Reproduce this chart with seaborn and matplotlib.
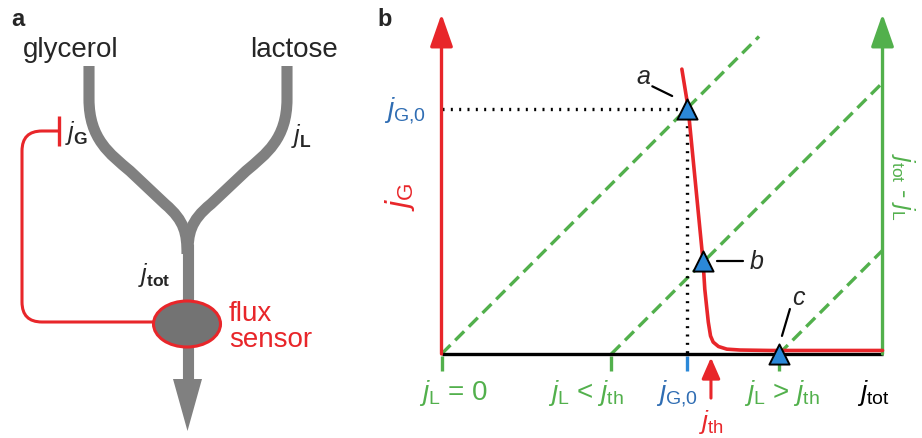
import numpy as np
import pandas as pd
import seaborn as sns
import matplotlib.pyplot as plt
from matplotlib.path import Path
from matplotlib.patches import PathPatch, Ellipse, Polygon

# panel b values, in units where j_tot = 1
curve_x = [0.545, 0.559, 0.593, 0.597, 0.601, 0.605, 0.610, 0.616, 0.628, 0.647, 0.677, 0.745, 1.0]
curve_y = [0.646, 0.560, 0.211, 0.147, 0.109, 0.072, 0.041, 0.027, 0.017, 0.011, 0.009, 0.008, 0.008]
jl_levels = [0.0, 0.385, 0.765]
jl_ends = [0.72, 1.0, 1.0]
point_names = ['a', 'b', 'c']
point_x = [0.556, 0.593, 0.765]
point_y = [0.556, 0.211, 0.0]
jg0 = 0.556
jth = 0.611
jtot = 1.0
axis_top = 0.771

RED = '#e8262a'
GREEN = '#52b04c'
BLUE = '#2b88d8'
DBLUE = '#2f6db3'
GRAY = '#808080'

sns.set_style('white')
plt.rcParams['font.family'] = ['Liberation Sans', 'DejaVu Sans']
plt.rcParams['mathtext.fontset'] = 'custom'
plt.rcParams['mathtext.rm'] = 'Liberation Sans'
plt.rcParams['mathtext.it'] = 'Liberation Sans:italic'
plt.rcParams['mathtext.bf'] = 'Liberation Sans:bold'

fig = plt.figure(figsize=(9.22, 4.39), dpi=100)

# ---------- panel a (drawn in pixel coordinates) ----------
ax0 = fig.add_axes([0, 0, 1, 1])
ax0.set_xlim(0, 922)
ax0.set_ylim(439, 0)
ax0.axis('off')

tube_lw = 8.0
left = Path([(89, 67), (89, 100), (89, 140), (110, 155), (130, 172), (165, 205),
             (185, 222), (187, 235), (187, 255)],
            [Path.MOVETO, Path.LINETO, Path.CURVE4, Path.CURVE4, Path.CURVE4,
             Path.LINETO, Path.CURVE4, Path.CURVE4, Path.CURVE4])
right = Path([(287, 67), (287, 100), (287, 140), (266, 155), (246, 172), (211, 205),
              (190, 222), (188, 235), (188, 255)],
             [Path.MOVETO, Path.LINETO, Path.CURVE4, Path.CURVE4, Path.CURVE4,
              Path.LINETO, Path.CURVE4, Path.CURVE4, Path.CURVE4])
for p in (left, right):
    ax0.add_patch(PathPatch(p, fill=False, edgecolor=GRAY, lw=tube_lw, capstyle='butt'))
ax0.plot([187.5, 187.5], [245, 384], color=GRAY, lw=tube_lw, solid_capstyle='butt')
ax0.add_patch(Polygon([(173, 380), (202, 380), (187.5, 432)], closed=True, color=GRAY, lw=0))

# feedback line
fb = Path([(153, 323), (42, 323), (22, 323), (22, 303), (22, 152), (22, 132), (42, 132), (59, 132)],
          [Path.MOVETO, Path.LINETO, Path.CURVE3, Path.CURVE3, Path.LINETO,
           Path.CURVE3, Path.CURVE3, Path.LINETO])
ax0.add_patch(PathPatch(fb, fill=False, edgecolor=RED, lw=2.2))
ax0.plot([59, 59], [117, 147], color=RED, lw=2.4, solid_capstyle='butt')
ax0.add_patch(Ellipse((187, 325), 67, 46, facecolor='#737373', edgecolor=RED, lw=2.2, zorder=3))

ax0.text(18, 20, 'a', fontsize=17, fontweight='bold', ha='center', va='center')
ax0.text(70.5, 57, 'glycerol', fontsize=20, ha='center', va='baseline')
ax0.text(294, 57, 'lactose', fontsize=20, ha='center', va='baseline')
ax0.text(65, 140, r'$j_\mathbf{G}$', fontsize=18, ha='left', va='baseline')
ax0.text(291, 143, r'$j_\mathbf{L}$', fontsize=18, ha='left', va='baseline')
ax0.text(138, 282, r'$j_\mathbf{tot}$', fontsize=18, ha='left', va='baseline')
ax0.text(229, 321, 'flux', fontsize=20, color=RED, ha='left', va='baseline')
ax0.text(229, 347, 'sensor', fontsize=20, color=RED, ha='left', va='baseline')

# ---------- panel b ----------
ax1 = fig.add_axes([397.4 / 922, 0.21 / 439, 520.4 / 922, 436.6 / 439])
ax1.patch.set_alpha(0)

dash_rows = []
for lvl, xe in zip(jl_levels, jl_ends):
    dash_rows.append({'x': lvl, 'y': 0.0, 'level': lvl})
    dash_rows.append({'x': xe, 'y': xe - lvl, 'level': lvl})
dash_df = pd.DataFrame(dash_rows)
sns.lineplot(data=dash_df, x='x', y='y', units='level', estimator=None, sort=False,
             color=GREEN, lw=2.4, linestyle=(0, (3.8, 2.0)), legend=False, ax=ax1, zorder=2)

# dotted guides to j_G,0
ax1.plot([0, jg0], [jg0, jg0], color='black', lw=2.4, linestyle=(0, (0.6, 1.9)), zorder=2)
ax1.plot([jg0, jg0], [jg0, 0], color='black', lw=2.4, linestyle=(0, (0.6, 1.9)), zorder=2)

# baseline
ax1.plot([0, jtot], [0, 0], color='black', lw=2.4, zorder=3, solid_capstyle='butt')

curve_df = pd.DataFrame({'x': curve_x, 'y': curve_y})
sns.lineplot(data=curve_df, x='x', y='y', sort=False, estimator=None, color=RED, lw=2.6,
             ax=ax1, zorder=4)

# axis arrows
arrow_style = '-|>,head_length=1.0,head_width=0.35'
ax1.annotate('', xy=(0, axis_top), xytext=(0, 0),
             arrowprops=dict(arrowstyle=arrow_style, color=RED, lw=2.4, mutation_scale=20,
                             shrinkA=0, shrinkB=0), zorder=3)
ax1.annotate('', xy=(jtot, axis_top), xytext=(jtot, 0),
             arrowprops=dict(arrowstyle=arrow_style, color=GREEN, lw=2.4, mutation_scale=20,
                             shrinkA=0, shrinkB=0), zorder=3)
ax1.annotate('', xy=(jth, -0.008), xytext=(jth, -0.10),
             arrowprops=dict(arrowstyle='-|>,head_length=0.8,head_width=0.35', color=RED,
                             lw=2.2, mutation_scale=16, shrinkA=0, shrinkB=0))

# tick marks under the baseline
for xv in jl_levels:
    ax1.plot([xv, xv], [-0.004, -0.039], color=GREEN, lw=2.4, solid_capstyle='butt')
ax1.plot([jg0, jg0], [-0.004, -0.039], color=BLUE, lw=2.4, solid_capstyle='butt')

# operating points
sns.scatterplot(x=point_x, y=point_y, marker='^', s=210, color=BLUE, edgecolor='black',
                linewidth=1.4, ax=ax1, zorder=6, clip_on=False)
offsets = {'a': ((-0.033, 0.029), (-0.078, 0.051), (-0.099, 0.074)),
           'b': ((0.032, 0.0), (0.091, 0.0), (0.122, 0.0)),
           'c': ((0.007, 0.041), (0.025, 0.102), (0.044, 0.129))}
for name, px, py in zip(point_names, point_x, point_y):
    (s0, s1, t0) = offsets[name]
    ax1.plot([px + s0[0], px + s1[0]], [py + s0[1], py + s1[1]], color='black', lw=1.6)
    ax1.text(px + t0[0], py + t0[1], name, fontsize=18, style='italic',
             ha='center', va='center')

# labels
lab_y = -0.102
ax1.text(0.027, lab_y, r'$j_\mathrm{L}$ = 0', fontsize=20, color=GREEN, ha='center', va='baseline')
ax1.text(0.328, lab_y, r'$j_\mathrm{L}$ < $j_\mathrm{th}$', fontsize=20, color=GREEN,
         ha='center', va='baseline')
ax1.text(jg0 - 0.022, lab_y, r'$j_\mathrm{G{,}0}$', fontsize=20, color=DBLUE, ha='center', va='baseline')
ax1.text(0.772, lab_y, r'$j_\mathrm{L}$ > $j_\mathrm{th}$', fontsize=20, color=GREEN,
         ha='center', va='baseline')
ax1.text(0.979, lab_y, r'$j_\mathrm{tot}$', fontsize=20, color='black', ha='center', va='baseline')
ax1.text(jth + 0.002, -0.168, r'$j_\mathrm{th}$', fontsize=19, color=RED, ha='center', va='baseline')
ax1.text(-0.083, jg0 - 0.016, r'$j_\mathrm{G{,}0}$', fontsize=20, color=DBLUE, ha='center', va='baseline')
ax1.text(-0.094, 0.358, r'$j_\mathrm{G}$', fontsize=23, color=RED, rotation=90,
         ha='center', va='center')
ax1.text(1.047, 0.381, r'$j_\mathrm{tot}$ - $j_\mathrm{L}$', fontsize=18, color=GREEN,
         rotation=270, ha='center', va='center')
ax1.text(-0.128, 0.760, 'b', fontsize=17, fontweight='bold', ha='center', va='center')

ax1.set_xlim(-0.1, 1.08)
ax1.set_ylim(-0.19, 0.80)
ax1.axis('off')

fig.savefig('out.png', dpi=100)
